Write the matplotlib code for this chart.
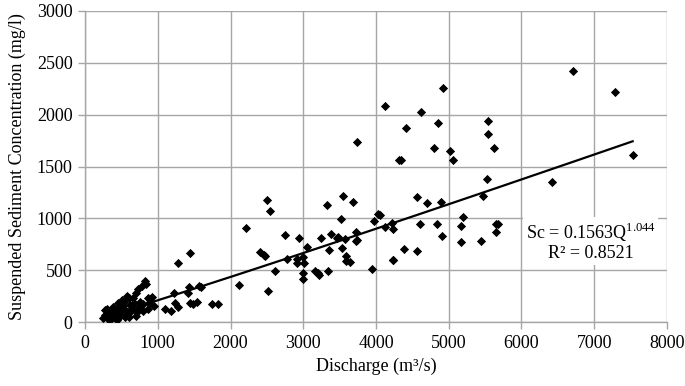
import numpy as np
import matplotlib.pyplot as plt

# discharge Q (m3/s) and suspended sediment concentration Sc (mg/l)
q = [250, 270, 300, 310, 330, 350, 370, 390, 400, 420, 430, 450, 460, 470, 480,
     500, 510, 520, 540, 550, 560, 580, 600, 610, 620, 650, 660, 680, 700, 710,
     730, 740, 760, 780, 800, 820, 840, 860, 880, 900, 920, 950, 870, 800, 700,
     600, 440, 380, 280, 330,
     1100, 1182, 1237, 1283, 1223, 1282, 1448, 1434, 1420, 1571, 1443, 1489, 1544,
     1594, 1740, 1832, 2117, 2213, 2405, 2460, 2478, 2497, 2543, 2511, 2612, 2749,
     2781, 2918, 2918, 2946, 3001, 3001, 3001, 3014, 3046, 3162, 3207, 3221, 3246,
     3322, 3335, 3354, 3381, 3468, 3482, 3514, 3527, 3541, 3574, 3588, 3588, 3643,
     3688, 3725, 3725, 3734, 3743, 3940, 3971, 4022, 4055, 4124, 4124, 4216, 4228,
     4238, 4228, 4316, 4339, 4385, 4407, 4568, 4568, 4605, 4618, 4695, 4797, 4842,
     4847, 4887, 4911, 4916, 5017, 5053, 5163, 5163, 5200, 5438, 5474, 5520, 5543,
     5543, 5622, 5644, 5650, 5682, 6415, 6712, 7285, 7528]
sc = [40, 70, 130, 90, 55, 110, 40, 150, 80, 120, 60, 190, 40, 100, 140,
      70, 210, 160, 200, 55, 110, 250, 230, 90, 170, 130, 230, 190, 280, 100,
      320, 150, 200, 350, 180, 400, 370, 230, 190, 220, 240, 160, 130, 110, 60,
      50, 20, 90, 120, 20,
      128, 109, 189, 144, 285, 568, 664, 337, 279, 350, 189, 176, 195,
      343, 176, 176, 359, 905, 677, 648, 638, 1177, 1071, 304, 497, 845,
      610, 610, 568, 815, 632, 478, 417, 568, 728, 497, 478, 455, 809,
      1129, 497, 696, 850, 812, 818, 992, 718, 1212, 799, 638, 593, 584,
      1161, 872, 783, 792, 1740, 510, 975, 1040, 1033, 2085, 920, 953, 600,
      898, 600, 1563, 1563, 703, 1868, 1203, 690, 944, 2022, 1152, 1678, 944,
      1922, 1161, 834, 2259, 1652, 1563, 930, 776, 1011, 786, 1219, 1380, 1938,
      1813, 1678, 867, 944, 944, 1354, 2419, 2214, 1611]

# fitted power law Sc = a * Q^b
a, b = 0.1563, 1.044
r2 = 0.8521

plt.rcParams['font.family'] = ['Liberation Serif', 'DejaVu Serif']

fig = plt.figure(figsize=(6.85, 3.86), dpi=100)
ax = fig.add_axes([0.1241, 0.165, 0.8496, 0.8073])

grid_col = '#a6a6a6'
ax.set_xlim(0, 8000)
ax.set_ylim(0, 3000)
ax.set_xticks(np.arange(0, 8001, 1000))
ax.set_yticks(np.arange(0, 3001, 500))
ax.grid(True, color=grid_col, linewidth=1.0)
ax.set_axisbelow(True)
for s in ['top', 'right']:
    ax.spines[s].set_visible(False)
for s in ['left', 'bottom']:
    ax.spines[s].set_color(grid_col)
    ax.spines[s].set_linewidth(1.0)
ax.tick_params(direction='out', length=5, width=1.0, color=grid_col,
               labelsize=13, pad=4)

ax.scatter(q, sc, marker='D', s=22, color='black', zorder=3, linewidths=0)

qq = np.linspace(min(q), max(q), 200)
ax.plot(qq, a * qq ** b, color='black', linewidth=1.6, zorder=4)

ax.text(6950, 975, r'Sc = 0.1563Q$^{\mathregular{1.044}}$' + '\n' + f'R² = {r2}',
        ha='center', va='top', fontsize=13, linespacing=1.1, zorder=5,
        bbox=dict(facecolor='white', edgecolor='none', pad=2))

ax.set_xlabel('Discharge (m³/s)', fontsize=13, labelpad=4)
ax.set_ylabel('Suspended Sediment Concentration (mg/l)', fontsize=13, labelpad=8)

fig.savefig('out.png', dpi=100)
